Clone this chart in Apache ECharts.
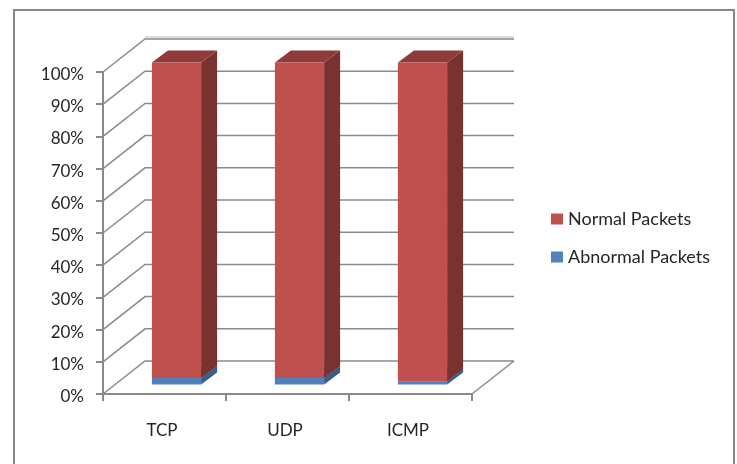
<!DOCTYPE html>
<html>
<head>
<meta charset="utf-8">
<title>Packets by protocol</title>
<style>
  html, body { margin: 0; padding: 0; background: #fff; }
  #chart { width: 737px; height: 464px; }
</style>
<script src="https://cdn.jsdelivr.net/npm/echarts@6/dist/echarts.min.js"></script>
</head>
<body>
<div id="chart"></div>
<script>
// Share of packets per protocol, in percent
const categories = ['TCP', 'UDP', 'ICMP'];
const abnormalPackets = [2, 2, 1];
const normalPackets = [98, 98, 99];
const wallTicks = [0, 10, 20, 30, 40, 50, 60, 70, 80, 90, 100];

const FONT = 'Lato, "Open Sans", sans-serif';
const GRID_COLOR = '#8a8a8a';
const WALL_DX = 42, WALL_DY = -33;     // front plane to back wall
const BAR_DX = 12, BAR_DY = -9.5;      // front plane to front face of a column
const COL_DX = 16, COL_DY = -12;       // column depth
const COL_RATIO = 0.4;                 // column width as a share of its band

// Draws the back wall lines and their diagonals on the side wall and floor
function renderWall(params, api) {
  const value = api.value(0);
  const cs = params.coordSys;
  const y = api.coord([0, value])[1];
  const left = cs.x, right = cs.x + cs.width;
  const children = [];
  const stroke = { stroke: GRID_COLOR, lineWidth: 1.5, fill: null };
  children.push({
    type: 'polyline',
    shape: { points: [[left, y], [left + WALL_DX, y + WALL_DY], [right + WALL_DX, y + WALL_DY]] },
    style: stroke
  });
  if (value === 0) {
    children.push({
      type: 'line',
      shape: { x1: right, y1: y, x2: right + WALL_DX, y2: y + WALL_DY },
      style: stroke
    });
  }
  if (value === 100) {
    children.push({
      type: 'line',
      shape: { x1: left + WALL_DX, y1: y + WALL_DY - 2, x2: right + WALL_DX, y2: y + WALL_DY - 2 },
      style: { stroke: '#dcdcdc', lineWidth: 2 }
    });
  }
  return { type: 'group', children };
}

// Draws one stacked 3D column segment: front, side and top faces
function columnRenderer(front, side, top) {
  return function (params, api) {
    const idx = api.value(0);
    const low = api.coord([idx, api.value(1)]);
    const high = api.coord([idx, api.value(2)]);
    const w = api.size([1, 0])[0] * COL_RATIO;
    const x0 = low[0] - w / 2 + BAR_DX, x1 = x0 + w;
    const yb = low[1] + BAR_DY, yt = high[1] + BAR_DY;
    return {
      type: 'group',
      children: [
        {
          type: 'polygon',
          shape: { points: [[x1, yb], [x1 + COL_DX, yb + COL_DY], [x1 + COL_DX, yt + COL_DY], [x1, yt]] },
          style: { fill: side }
        },
        {
          type: 'polygon',
          shape: { points: [[x0, yt], [x1, yt], [x1 + COL_DX, yt + COL_DY], [x0 + COL_DX, yt + COL_DY]] },
          style: { fill: top }
        },
        {
          type: 'rect',
          shape: { x: x0, y: yt, width: w, height: yb - yt },
          style: { fill: front }
        }
      ]
    };
  };
}

const chart = echarts.init(document.getElementById('chart'), null, { renderer: 'canvas' });
chart.setOption({
  animation: false,
  backgroundColor: '#ffffff',
  grid: { left: 103, right: 265, top: 72, bottom: 70, containLabel: false },
  legend: {
    data: ['Normal Packets', 'Abnormal Packets'],
    left: 551,
    top: 210,
    padding: 0,
    orient: 'vertical',
    icon: 'rect',
    itemWidth: 12,
    itemHeight: 11,
    itemGap: 20,
    selectedMode: false,
    textStyle: { fontFamily: FONT, fontSize: 18, color: '#262626', height: 18, lineHeight: 18 }
  },
  xAxis: {
    type: 'category',
    data: categories,
    axisLine: { lineStyle: { color: GRID_COLOR, width: 2 } },
    axisTick: { show: true, length: 7, alignWithLabel: false, lineStyle: { color: GRID_COLOR, width: 2 } },
    axisLabel: { fontFamily: FONT, fontSize: 17, color: '#262626', margin: 28, padding: [0, 5, 0, 0] }
  },
  yAxis: {
    type: 'value',
    min: 0,
    max: 100,
    interval: 10,
    splitLine: { show: false },
    axisLine: { show: true, lineStyle: { color: GRID_COLOR, width: 2 } },
    axisTick: { show: true, length: 7, lineStyle: { color: GRID_COLOR, width: 2 } },
    axisLabel: {
      margin: 19,
      formatter: '{pct|{value}%}',
      rich: { pct: { fontFamily: FONT, fontSize: 17, color: '#262626', padding: [5, 0, 0, 0] } }
    }
  },
  graphic: [
    {
      type: 'polyline',
      silent: true,
      shape: { points: [[14, 464], [14, 10], [734, 10], [734, 464]] },
      style: { stroke: '#868686', lineWidth: 2, fill: null }
    }
  ],
  series: [
    {
      type: 'custom',
      name: 'wall',
      silent: true,
      renderItem: renderWall,
      encode: { y: 0 },
      data: wallTicks.map(v => [v])
    },
    {
      type: 'custom',
      name: 'Abnormal Packets',
      itemStyle: { color: '#4f81bd' },
      renderItem: columnRenderer('#4f81bd', '#385d8a', '#3f6797'),
      encode: { x: 0, y: [1, 2] },
      data: categories.map((c, i) => [i, 0, abnormalPackets[i]])
    },
    {
      type: 'custom',
      name: 'Normal Packets',
      itemStyle: { color: '#c0504d' },
      renderItem: columnRenderer('#c0504d', '#7a3230', '#8e3b39'),
      encode: { x: 0, y: [1, 2] },
      data: categories.map((c, i) => [i, abnormalPackets[i], abnormalPackets[i] + normalPackets[i]])
    }
  ]
});
</script>
</body>
</html>
